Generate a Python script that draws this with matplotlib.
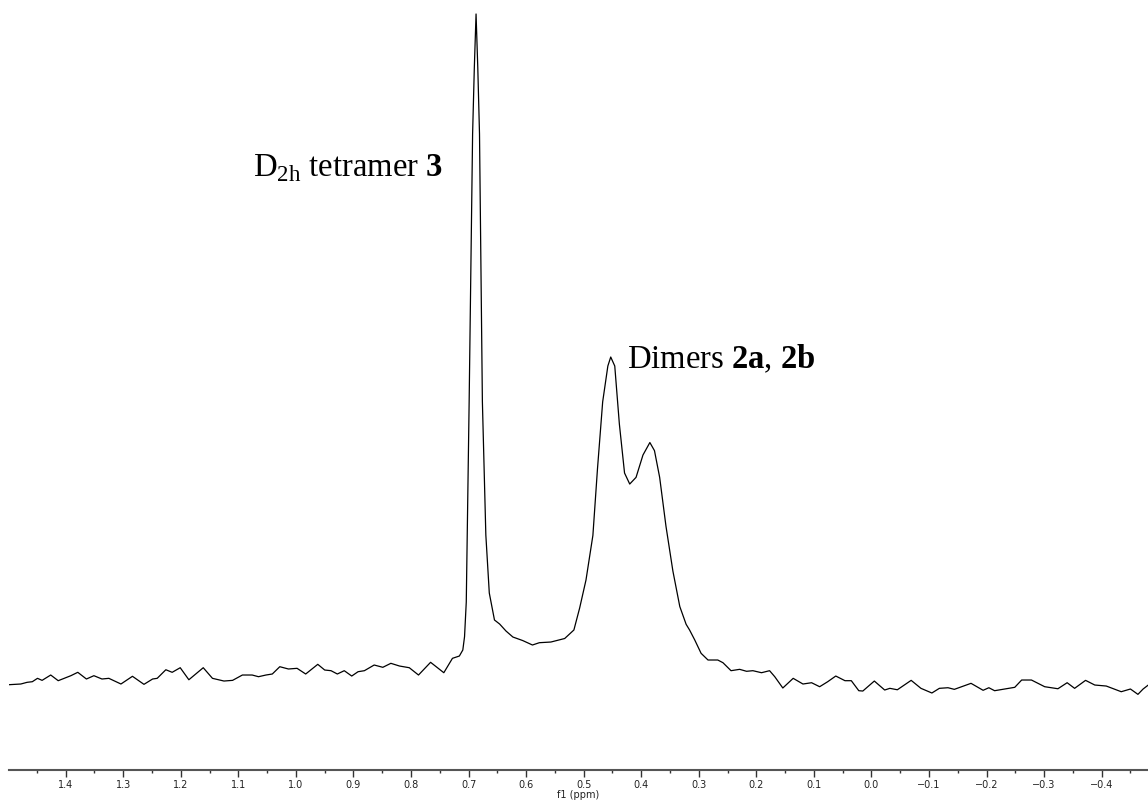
import matplotlib
matplotlib.use("Agg")
import matplotlib.pyplot as plt
from matplotlib.ticker import MultipleLocator

# 1H NMR trace: chemical shift (ppm) and intensity (main peak = 100)
ppm = [
    1.500, 1.478, 1.467, 1.458, 1.449, 1.441, 1.426, 1.413, 1.400, 1.391,
    1.379, 1.364, 1.351, 1.337, 1.325, 1.304, 1.284, 1.264, 1.249, 1.241,
    1.226, 1.215, 1.201, 1.186, 1.161, 1.145, 1.125, 1.110, 1.093, 1.076,
    1.065, 1.052, 1.041, 1.028, 1.013, 0.998, 0.983, 0.962, 0.950, 0.939,
    0.928, 0.916, 0.903, 0.892, 0.881, 0.864, 0.849, 0.835, 0.820, 0.803,
    0.787, 0.766, 0.743, 0.728, 0.716, 0.710, 0.707, 0.704, 0.699, 0.693,
    0.690, 0.687, 0.684, 0.681, 0.676, 0.670, 0.664, 0.655, 0.646, 0.635,
    0.623, 0.606, 0.589, 0.577, 0.557, 0.533, 0.517, 0.507, 0.496, 0.484,
    0.476, 0.467, 0.458, 0.453, 0.446, 0.438, 0.429, 0.420, 0.409, 0.397,
    0.385, 0.377, 0.368, 0.357, 0.345, 0.333, 0.322, 0.316, 0.307, 0.296,
    0.284, 0.267, 0.258, 0.244, 0.229, 0.217, 0.206, 0.191, 0.177, 0.168,
    0.154, 0.136, 0.119, 0.104, 0.090, 0.076, 0.062, 0.046, 0.035, 0.022,
    0.015, -0.005, -0.023, -0.032, -0.045, -0.069, -0.086, -0.105, -0.118, -0.133,
    -0.144, -0.173, -0.194, -0.204, -0.214, -0.249, -0.261, -0.278, -0.301, -0.324,
    -0.340, -0.353, -0.372, -0.388, -0.408, -0.434, -0.450, -0.463, -0.472, -0.481,
]
intensity = [
    0.78, 0.89, 1.14, 1.23, 1.73, 1.43, 2.22, 1.38, 1.82, 2.12,
    2.62, 1.63, 2.12, 1.63, 1.73, 0.89, 2.03, 0.84, 1.63, 1.73,
    3.00, 2.62, 3.30, 1.52, 3.30, 1.73, 1.33, 1.43, 2.22, 2.22,
    1.97, 2.22, 2.37, 3.45, 3.11, 3.21, 2.37, 3.80, 2.96, 2.86,
    2.37, 2.86, 2.07, 2.71, 2.86, 3.70, 3.36, 3.95, 3.55, 3.30,
    2.22, 4.10, 2.56, 4.69, 5.03, 5.92, 7.89, 13.02, 42.66, 82.25,
    92.08, 100.0, 92.08, 82.25, 42.66, 22.93, 14.35, 10.36, 9.76, 8.73,
    7.84, 7.32, 6.66, 7.00, 7.10, 7.62, 8.88, 12.13, 16.27, 22.87,
    32.75, 42.63, 47.93, 49.26, 47.93, 39.35, 32.10, 30.47, 31.46, 34.76,
    36.61, 35.41, 31.46, 24.22, 17.60, 12.35, 9.72, 8.88, 7.40, 5.43,
    4.44, 4.44, 4.04, 2.86, 3.06, 2.77, 2.86, 2.56, 2.86, 1.97,
    0.30, 1.73, 0.89, 1.08, 0.49, 1.23, 2.07, 1.38, 1.38, -0.10,
    -0.15, 1.33, 0.00, 0.25, 0.04, 1.43, 0.25, -0.44, 0.25, 0.34,
    0.10, 0.99, -0.04, 0.34, -0.10, 0.40, 1.48, 1.48, 0.49, 0.19,
    1.08, 0.25, 1.43, 0.74, 0.59, -0.25, 0.15, -0.64, 0.15, 0.74,
]

# peak labels: (text, ppm, intensity, alignment)
labels = [
    (r"D$_{\rm 2h}$ tetramer $\mathbf{3}$", 0.744, 76.0, "right"),
    (r"Dimers $\mathbf{2a}$, $\mathbf{2b}$", 0.424, 47.6, "left"),
]

plt.rcParams["mathtext.fontset"] = "custom"
plt.rcParams["mathtext.rm"] = "Liberation Serif"
plt.rcParams["mathtext.bf"] = "Liberation Serif:bold"

fig = plt.figure(figsize=(11.48, 8.02), dpi=100)
ax = fig.add_axes([9 / 1148, 32 / 802, 1139 / 1148, 770 / 802])

ax.plot(ppm, intensity, color="black", lw=0.9)

for text, x, y, ha in labels:
    ax.text(x, y, text, ha=ha, va="baseline", fontsize=23.5,
            family="Liberation Serif", color="black")

ax.set_xlim(1.4985, -0.4805)
ax.set_ylim(-11.83, 102.07)

for side in ("top", "left", "right"):
    ax.spines[side].set_visible(False)
ax.spines["bottom"].set_color("#555555")
ax.spines["bottom"].set_linewidth(1.5)
ax.set_yticks([])

ax.xaxis.set_major_locator(MultipleLocator(0.1))
ax.xaxis.set_minor_locator(MultipleLocator(0.05))
ax.tick_params(axis="x", which="major", length=5, width=1, color="#333333",
               labelsize=7, pad=2.5, labelcolor="#222222")
ax.tick_params(axis="x", which="minor", length=2.5, width=1, color="#333333")
ax.set_xlabel("f1 (ppm)", fontsize=7, labelpad=0, color="#222222")

fig.savefig("out.png", dpi=100)
